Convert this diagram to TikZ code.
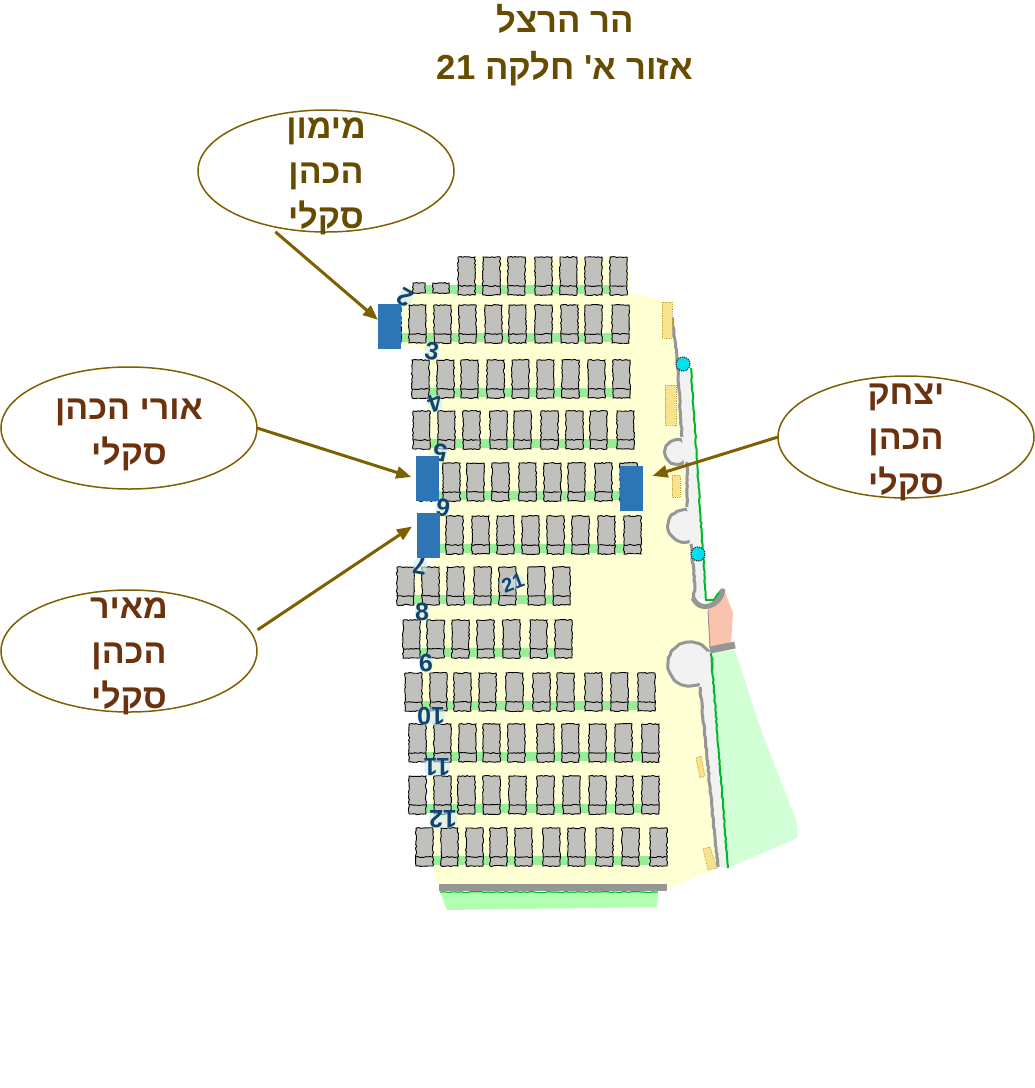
\documentclass[tikz,border=0pt]{standalone}
\usepackage{fontspec}
\setmainfont{Liberation Sans}
\newfontfamily\hebfont[Script=Hebrew]{Liberation Sans}
\TeXXeTstate=1
\usepackage{tikz}
\usetikzlibrary{shapes.geometric, arrows.meta, decorations.pathmorphing}
\definecolor{ovalLine}{RGB}{127,96,0}
\definecolor{titleText}{RGB}{102,76,0}
\definecolor{nameText}{RGB}{108,50,14}
\definecolor{markBlue}{RGB}{46,117,182}
\definecolor{groundYellow}{RGB}{255,255,212}
\definecolor{graveGray}{RGB}{192,192,188}
\definecolor{gapGreen}{RGB}{150,238,150}
\definecolor{lawnGreen}{RGB}{210,255,214}
\definecolor{stripGreen}{RGB}{178,255,178}
\definecolor{hedgeGreen}{RGB}{0,185,40}
\definecolor{roadGray}{RGB}{242,242,242}
\definecolor{kerbGray}{RGB}{150,150,150}
\definecolor{tanMark}{RGB}{250,225,140}
\definecolor{tanEdge}{RGB}{190,170,70}
\definecolor{gateSalmon}{RGB}{250,195,175}
\definecolor{postCyan}{RGB}{0,225,240}
\definecolor{numBlue}{RGB}{18,68,110}
\definecolor{numHalo}{RGB}{205,232,242}
\tikzset{
  nameOval/.style={ellipse, draw=ovalLine, line width=1.5pt, minimum width=256pt, minimum height=122pt, inner sep=0pt, outer sep=0pt},
  nameLabel/.style={font=\hebfont\bfseries\fontsize{34}{45}\selectfont, text=nameText, align=center, inner sep=0pt},
  titleLabel/.style={font=\hebfont\bfseries\fontsize{34.7}{47}\selectfont, text=titleText, align=center, inner sep=0pt},
  markBox/.style={fill=markBlue, minimum width=23pt, minimum height=45pt, inner sep=0pt, outer sep=0pt},
  pointerArrow/.style={draw=ovalLine, line width=3pt, -{Triangle[length=15pt,width=12pt]}},
  graveBox/.style={draw=black, fill=graveGray, line width=0.9pt, decorate, decoration={random steps, segment length=2pt, amplitude=0.6pt}},
  tanBox/.style={draw=tanEdge, fill=tanMark, densely dotted, line width=0.8pt},
  kerbLine/.style={draw=kerbGray, line width=3pt, decorate, decoration={random steps, segment length=3pt, amplitude=0.5pt}},
  hedgeLine/.style={draw=hedgeGreen, line width=2pt, decorate, decoration={random steps, segment length=3pt, amplitude=0.5pt}},
  bayCircle/.style={fill=roadGray, draw=kerbGray, line width=3pt, decorate, decoration={random steps, segment length=3pt, amplitude=0.5pt}},
  postDot/.style={circle, fill=postCyan, draw=black!80, densely dotted, line width=1.2pt, minimum size=14pt, inner sep=0pt},
  rowNum/.style={font=\bfseries\fontsize{25}{25}\selectfont, text=numBlue, fill=numHalo, fill opacity=0.6, text opacity=1, rounded corners=7pt, inner sep=0pt}
}
\newcommand{\heb}[1]{\beginR #1\endR}
% One row: y of the top, then left edges
\newcommand{\graveRow}[2]{
  \foreach \gx [count=\gi] in {#2} {
    \ifnum\gi>1 \fill[gapGreen] (\gx-11,#1+28) rectangle (\gx,#1+37); \fi
  }
  \foreach \gx in {#2} {
    \draw[graveBox] (\gx,#1) rectangle ++(17,38);
    \draw[graveBox] (\gx,#1+29) -- ++(17,0);
  }
}
\begin{document}
\begin{tikzpicture}[x=1pt, y=-1pt]
  \useasboundingbox (0,0) rectangle (1035,1088);

  % Ground
  \fill[lawnGreen] (710,652) -- (735,650) -- (760,727) -- (797,823) -- (797,838) -- (728,868) -- cycle;
  \fill[stripGreen] (440,892) -- (658,892) -- (657,907) -- (447,910) -- cycle;
  \fill[groundYellow] (403,289) -- (413,285) -- (458,285) -- (459,258) -- (628,258) -- (630,292)
    -- (662,300) -- (672,317) -- (677,357) -- (682,437) -- (687,507) -- (693,600) -- (708,610)
    -- (711,650) -- (700,687) -- (718,867) -- (667,890) -- (440,888) -- (433,870) -- (430,815)
    -- (428,765) -- (428,720) -- (422,712) -- (422,620) -- (415,610) -- (415,570) -- (438,560)
    -- (438,462) -- (428,455) -- (428,350) -- (403,345) -- cycle;
  \fill[gateSalmon] (708,607) -- (723,587) -- (733,613) -- (731,642) -- (710,648) -- cycle;

  % Road and bays
  \draw[bayCircle] (677,452) circle (12);
  \draw[bayCircle] (684,526) circle (16);
  \draw[bayCircle] (690,664) circle (22);
  \fill[roadGray] (678,370) -- (692,370) -- (706,600) -- (694,598) -- (687,507) -- (682,437) -- cycle;
  \fill[roadGray] (690,650) -- (711,652) -- (728,868) -- (718,867) -- (700,685) -- cycle;
  \draw[kerbLine] (672,317) -- (677,357) -- (682,437);
  \draw[kerbLine] (687,462) -- (687,507);
  \draw[kerbLine] (691,544) -- (695,587) -- (693,598);
  \draw[kerbLine] (700,687) -- (718,867);
  \draw[draw=kerbGray, line width=1pt] (708,610) -- (710,648);
  \draw[hedgeLine] (691,368) -- (706,600) -- (714,600) -- (721,590);
  \draw[hedgeLine] (711,653) -- (728,868);
  \draw[draw=kerbGray, line width=5pt] (693,598) .. controls (697,606) and (704,608) .. (709,606)
    .. controls (716,604) and (722,598) .. (723,589);
  \draw[draw=kerbGray, line width=7pt] (710,650) -- (735,645);
  \draw[draw=kerbGray, line width=7pt] (439,887) -- (667,887);
  \draw[hedgeLine, line width=1.2pt] (440,892) -- (658,892);

  % Small tan plots
  \draw[tanBox] (662,302) rectangle (672,338);
  \draw[tanBox] (665,385) rectangle (676,425);
  \draw[tanBox] (672,475) rectangle (680,497);
  \draw[tanBox] (696,758) -- (701,756) -- (705,776) -- (700,778) -- cycle;
  \draw[tanBox] (703,849) -- (710,847) -- (717,868) -- (708,870) -- cycle;

  % Posts
  \node[postDot] (postTop) at (683,364) {};
  \node[postDot] (postLow) at (698,554) {};

  % Rows of graves
  \fill[gapGreen] (425,285) rectangle (458,294);
  \draw[graveBox] (413,283) rectangle (425,293);
  \draw[graveBox] (433,283) rectangle (449,293);
  \graveRow{257}{458,483,508,535,560,585,610}
  \graveRow{305}{384,409,434,459,485,509,535,561,585,612}
  \graveRow{360}{412,437,461,487,512,537,562,588,613}
  \graveRow{411}{413,438,463,490,514,541,566,590,617}
  \graveRow{463}{419,443,467,492,519,544,568,595,620}
  \graveRow{516}{421,446,472,497,522,547,572,598,624}
  \graveRow{567}{397,422,447,474,499,528,553}
  \graveRow{620}{403,427,452,477,503,530,555}
  \graveRow{673}{405,430,454,479,506,533,557,585,611,638}
  \graveRow{724}{409,434,459,483,508,537,562,589,615,642}
  \graveRow{776}{409,434,458,483,509,537,563,589,616,642}
  \graveRow{828}{416,441,466,490,515,543,568,596,622,650}

  % Row numbers
  \foreach \nx/\ny/\nrot/\ntxt in {405/298/150/2, 432/351/-10/3, 435/403/200/4, 440/453/170/5, 443/508/170/6,
      420/566/170/7, 422/612/0/8, 426/663/180/9, 431/716/180/10, 437/767/180/11, 443/819/180/12} {
    \node[rowNum, rotate=\nrot] (num\ntxt) at (\nx,\ny) {\ntxt};
  }
  \node[rowNum, rotate=20, font=\bfseries\fontsize{20}{20}\selectfont] (num21) at (513,583) {21};

  % Blue marks
  \node[markBox, anchor=north west] (markMaimon) at (378,304) {};
  \node[markBox, anchor=north west] (markUri) at (416,456) {};
  \node[markBox, anchor=north west] (markMeir) at (417,513) {};
  \node[markBox, anchor=north west] (markYitzhak) at (620,466) {};

  % Title
  \node[titleLabel] (title) at (565,45) {\heb{הר הרצל}\\\heb{אזור א' חלקה \beginL 21\endL}};

  % Names
  \node[nameOval] (maimon) at (326,171) {};
  \node[nameOval] (uri) at (129,428) {};
  \node[nameOval] (meir) at (129,651) {};
  \node[nameOval] (yitzhak) at (906,437) {};
  \node[nameLabel, text=titleText] (maimonText) at (326,176) {\heb{מימון}\\\heb{הכהן}\\\heb{סקלי}};
  \node[nameLabel] (uriText) at (129,435) {\heb{אורי הכהן}\\\heb{סקלי}};
  \node[nameLabel] (meirText) at (129,656) {\heb{מאיר}\\\heb{הכהן}\\\heb{סקלי}};
  \node[nameLabel] (yitzhakText) at (906,442) {\heb{יצחק}\\\heb{הכהן}\\\heb{סקלי}};

  % Arrows
  \draw[pointerArrow, shorten <=10pt] (maimon.223) -- (markMaimon.150);
  \draw[pointerArrow, shorten >=5pt] (uri.east) -- (markUri.west);
  \draw[pointerArrow, shorten <=7pt, shorten >=6pt] (meir.8) -- (markMeir.133);
  \draw[pointerArrow, shorten >=10pt] (yitzhak.west) -- (markYitzhak.40);
\end{tikzpicture}
\end{document}
